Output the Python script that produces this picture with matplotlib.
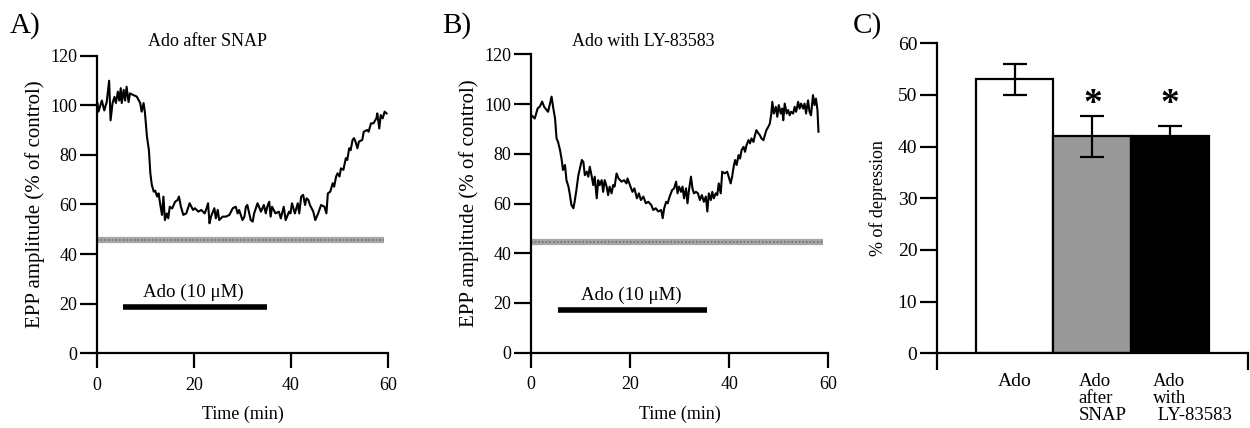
import matplotlib
matplotlib.use("Agg")
import matplotlib.pyplot as plt

plt.rcParams['font.family'] = ['Liberation Serif', 'DejaVu Serif']

# ---------------- data ----------------
# Panel A: EPP amplitude trace, Ado after SNAP
time_a = [0.1, 0.3, 1.0, 1.5, 2.0, 2.5, 2.8, 3.2, 3.6, 3.9, 4.3, 4.6, 4.9, 5.1, 5.5, 5.8,
          6.1, 6.5, 6.8, 7.5, 8.2, 8.9, 9.2, 9.6, 9.9, 10.3, 10.7, 11.0, 11.3, 11.7, 12.0,
          12.4, 12.7, 13.0, 13.4, 13.7, 14.0, 14.4, 14.7, 15.0, 15.5, 16.1, 16.6, 16.9,
          17.3, 17.8, 18.4, 19.1, 19.8, 20.2, 20.9, 21.5, 22.2, 22.6, 22.9, 23.2, 23.5,
          23.9, 24.2, 24.5, 24.9, 25.2, 25.9, 26.6, 27.3, 28.0, 28.6, 29.0, 29.3, 30.0,
          30.4, 30.7, 31.0, 31.4, 31.7, 32.1, 32.4, 33.1, 33.4, 33.8, 34.4, 34.8, 35.1,
          35.5, 35.8, 36.1, 36.8, 37.5, 37.9, 38.5, 38.9, 39.6, 39.9, 40.2, 40.8, 41.4,
          41.7, 42.1, 42.5, 42.9, 43.2, 43.6, 43.9, 44.6, 45.0, 45.6, 46.2, 46.9, 47.3,
          47.6, 48.1, 48.6, 48.9, 49.3, 49.6, 50.0, 50.3, 50.8, 51.3, 51.6, 52.0, 52.3,
          52.7, 53.0, 53.3, 53.7, 54.0, 54.7, 55.0, 55.7, 56.0, 56.5, 57.0, 57.6, 57.8,
          58.2, 58.5, 58.9, 59.3, 59.7]
epp_a = [100.9, 97.5, 102.0, 98.0, 101.4, 110.0, 94.0, 100.9, 103.5, 101.0, 105.6, 102.0,
         107.0, 101.0, 106.3, 102.0, 107.6, 101.4, 104.9, 104.2, 103.6, 101.0, 97.5, 101.0,
         96.8, 87.4, 82.0, 72.6, 67.9, 65.2, 65.6, 63.2, 64.5, 60.5, 55.8, 63.2, 53.7,
         56.4, 54.4, 59.1, 58.4, 61.1, 61.8, 63.2, 59.1, 55.8, 56.4, 60.5, 57.8, 58.5,
         57.1, 57.8, 56.4, 58.5, 60.5, 52.4, 55.1, 57.1, 58.5, 54.4, 57.8, 53.7, 55.1,
         55.1, 55.8, 58.5, 59.1, 56.4, 57.8, 53.7, 55.1, 59.1, 59.8, 56.4, 53.7, 53.1,
         56.4, 60.5, 59.1, 57.1, 59.8, 56.4, 59.1, 61.1, 55.1, 59.1, 56.4, 57.1, 54.4,
         59.1, 53.7, 57.1, 56.4, 60.5, 56.4, 60.5, 56.4, 63.2, 63.9, 59.8, 62.5, 61.8,
         59.8, 57.1, 53.7, 56.4, 59.8, 59.1, 56.4, 64.5, 65.2, 68.6, 67.2, 71.3, 72.6,
         71.3, 74.6, 74.0, 78.7, 78.0, 82.7, 82.0, 86.1, 86.8, 85.4, 82.7, 85.4, 86.1,
         89.4, 90.1, 89.4, 92.8, 92.8, 94.8, 96.8, 90.7, 96.1, 94.8, 97.5, 96.8]

# Panel B: EPP amplitude trace, Ado with LY-83583
time_b = [0.1, 0.8, 1.4, 1.8, 2.3, 2.7, 3.2, 3.5, 4.2, 4.5, 4.9, 5.2, 5.5, 5.9, 6.2, 6.5,
          6.9, 7.2, 7.6, 7.9, 8.2, 8.6, 8.9, 9.2, 9.6, 9.9, 10.3, 10.6, 10.9, 11.3, 11.6,
          11.9, 12.3, 12.6, 12.9, 13.3, 13.6, 13.9, 14.3, 14.6, 14.9, 15.3, 15.6, 15.9,
          16.3, 16.6, 16.9, 17.3, 17.7, 18.3, 18.8, 19.3, 19.5, 20.0, 20.5, 20.9, 21.4,
          21.8, 22.2, 22.7, 23.2, 23.7, 24.3, 24.7, 25.2, 25.7, 26.3, 26.6, 26.9, 27.3,
          27.6, 28.0, 28.5, 28.9, 29.3, 29.6, 29.9, 30.3, 30.6, 30.9, 31.3, 31.6, 31.9,
          32.3, 32.6, 32.9, 33.3, 33.7, 34.1, 34.5, 34.9, 35.3, 35.6, 35.9, 36.3, 36.6,
          36.9, 37.3, 37.6, 37.9, 38.3, 38.6, 39.1, 39.6, 39.9, 40.3, 40.6, 40.9, 41.2,
          41.5, 41.9, 42.2, 42.5, 42.9, 43.2, 43.5, 43.9, 44.2, 44.5, 44.9, 45.2, 45.5,
          45.9, 46.2, 46.5, 46.9, 47.2, 47.5, 47.9, 48.2, 48.5, 48.7, 49.0, 49.4, 49.7,
          50.0, 50.4, 50.7, 50.9, 51.2, 51.6, 51.9, 52.2, 52.5, 52.9, 53.2, 53.5, 53.9,
          54.2, 54.5, 54.9, 55.2, 55.5, 55.9, 56.2, 56.5, 56.9, 57.2, 57.5, 57.8, 58.0]
epp_b = [95.6, 94.2, 98.3, 98.9, 101.0, 98.9, 97.6, 96.9, 103.0, 98.9, 94.2, 86.2, 84.8,
         81.5, 78.1, 73.5, 75.5, 69.4, 66.8, 63.4, 59.4, 58.1, 61.4, 65.4, 71.4, 74.1,
         77.5, 76.8, 71.4, 72.8, 70.8, 74.8, 70.8, 67.4, 70.8, 62.1, 69.4, 67.4, 69.4,
         64.7, 69.4, 66.8, 63.4, 66.8, 64.1, 67.4, 66.8, 72.1, 70.1, 68.8, 69.4, 68.1,
         70.1, 67.4, 64.7, 66.1, 62.1, 64.1, 61.4, 62.8, 60.1, 60.7, 59.4, 57.4, 58.1,
         56.8, 57.4, 54.1, 58.1, 60.7, 60.1, 62.8, 65.4, 66.1, 68.8, 64.1, 66.8, 64.7,
         66.8, 62.1, 66.1, 60.1, 65.4, 70.8, 66.1, 64.1, 64.7, 64.1, 61.4, 63.4, 60.7,
         62.8, 56.8, 64.1, 61.4, 64.7, 62.1, 64.1, 63.4, 68.1, 64.1, 72.8, 72.1, 72.8,
         70.8, 68.1, 70.8, 74.8, 77.5, 75.5, 79.5, 78.1, 81.5, 82.8, 80.8, 83.5, 85.5,
         84.2, 86.2, 84.8, 87.5, 89.5, 88.2, 87.5, 86.2, 85.5, 87.5, 89.5, 90.9, 92.2,
         96.2, 100.9, 96.2, 98.9, 94.9, 99.6, 96.2, 98.2, 93.5, 100.2, 96.2, 97.6, 95.5,
         96.9, 96.2, 98.9, 96.9, 100.9, 98.2, 100.2, 98.2, 100.2, 96.2, 101.5, 96.9,
         95.5, 103.6, 99.6, 102.2, 97.6, 88.9]

# reference (hatched) lines and drug application bars
ref_level_a = 45.5
ref_end_a = 59.2
ref_level_b = 44.6
ref_end_b = 58.9
ado_on_a, ado_off_a, ado_level_a = 5.3, 35.0, 18.7
ado_on_b, ado_off_b, ado_level_b = 5.4, 35.5, 17.2
drug_label = "Ado (10 μM)"

# Panel C: % of depression
categories = ["Ado", "Ado\nafter\nSNAP", "Ado\nwith\n LY-83583"]
depression = [53, 42, 42]
depression_err = [3, 4, 2]
significant = [False, True, True]
bar_colors = ["white", "#999999", "black"]

# ---------------- figure ----------------
fig = plt.figure(figsize=(12.5, 4.28), dpi=100)

tick_fs = 13
title_fs = 13


def style_axes(ax, fs=tick_fs):
    for s in ("top", "right"):
        ax.spines[s].set_visible(False)
    for s in ("left", "bottom"):
        ax.spines[s].set_linewidth(1.6)
    ax.tick_params(direction="out", width=1.6, labelsize=fs)
    ax.tick_params(axis="x", length=11, pad=6)
    ax.tick_params(axis="y", length=12, pad=2)


def trace_panel(ax, t, v, ref_level, ref_end, on, off, lvl):
    ax.plot(t, v, color="black", lw=1.5)
    ax.plot([0, ref_end], [ref_level, ref_level], color="#a6a6a6", lw=4.5,
            solid_capstyle="butt")
    ax.plot([0, ref_end], [ref_level, ref_level], color="#6e6e6e", lw=1.2,
            dashes=(1, 1.2))
    ax.plot([on, off], [lvl, lvl], color="black", lw=4, solid_capstyle="butt")
    ax.text((on + off) / 2 - 0.2, lvl + 2.5, drug_label, ha="center", va="bottom",
            fontsize=13.6)
    ax.set_xlim(0, 60)
    ax.set_ylim(0, 120)
    ax.set_xticks([0, 20, 40, 60])
    ax.set_yticks([0, 20, 40, 60, 80, 100, 120])
    ax.set_xlabel("Time (min)", fontsize=13, labelpad=9)
    ax.set_ylabel("EPP amplitude (% of control)", fontsize=15, labelpad=4)
    style_axes(ax)


axA = fig.add_axes([0.0776, 0.1752, 0.2328, 0.694])
trace_panel(axA, time_a, epp_a, ref_level_a, ref_end_a, ado_on_a, ado_off_a,
            ado_level_a)
axB = fig.add_axes([0.4246, 0.1759, 0.2381, 0.6971])
trace_panel(axB, time_b, epp_b, ref_level_b, ref_end_b, ado_on_b, ado_off_b,
            ado_level_b)

fig.text(208 / 1250, 1 - 46 / 428, "Ado after SNAP", ha="center", va="baseline",
         fontsize=title_fs)
fig.text(643 / 1250, 1 - 46 / 428, "Ado with LY-83583", ha="center", va="baseline",
         fontsize=title_fs)

# Panel C
axC = fig.add_axes([0.7494, 0.1745, 0.249, 0.7243])
xpos = list(range(len(categories)))
axC.bar(xpos, depression, width=1.0, color=bar_colors, edgecolor="black",
        linewidth=1.6, zorder=2)
axC.errorbar(xpos, depression, yerr=depression_err, fmt="none", ecolor="black",
             elinewidth=1.6, capsize=8.5, capthick=1.6, zorder=3)
for x, d, e, sig in zip(xpos, depression, depression_err, significant):
    if sig:
        axC.text(x, 48.2, "*", ha="center", va="center", fontsize=27,
                 fontweight="bold")
axC.set_xlim(-1, 3)
axC.set_ylim(0, 60)
axC.set_yticks([0, 10, 20, 30, 40, 50, 60])
axC.set_xticks([-1, 3])
axC.set_xticklabels([])
axC.set_ylabel("% of depression", fontsize=13, labelpad=8)
style_axes(axC, fs=14)
axC.tick_params(axis="x", length=12)
for i, cat in enumerate(categories):
    if i == 0:
        axC.text(i, -3.8, cat, ha="center", va="top", fontsize=14, linespacing=1.02)
    else:
        axC.text(i - 0.18 - 0.04 * (i - 1), -3.8, cat, ha="left", va="top",
                 fontsize=13.5, linespacing=1.02)

# panel letters
fig.text(10 / 1250, 1 - 33 / 428, "A)", fontsize=21, va="baseline")
fig.text(442 / 1250, 1 - 33 / 428, "B)", fontsize=21, va="baseline")
fig.text(853 / 1250, 1 - 33 / 428, "C)", fontsize=21, va="baseline")

fig.savefig("out.png", dpi=100, facecolor="white")
